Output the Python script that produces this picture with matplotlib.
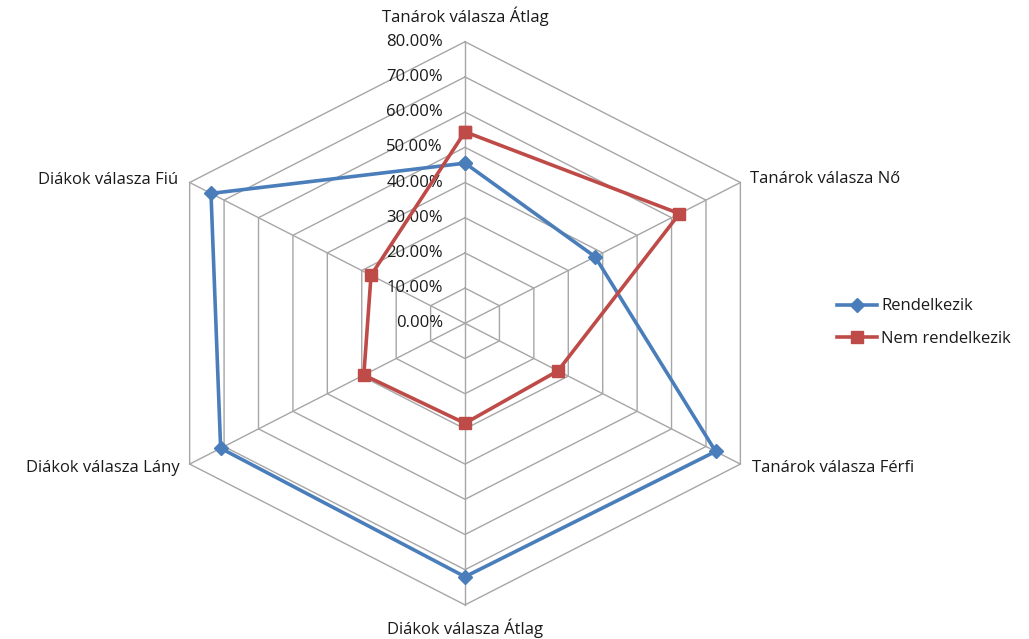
import numpy as np
import matplotlib
matplotlib.use("Agg")
import matplotlib.pyplot as plt

categories = [
    "Tanárok válasza Átlag",
    "Tanárok válasza Nő",
    "Tanárok válasza Férfi",
    "Diákok válasza Átlag",
    "Diákok válasza Lány",
    "Diákok válasza Fiú",
]
rendelkezik = [0.455, 0.378, 0.728, 0.720, 0.710, 0.738]
nem_rendelkezik = [0.544, 0.623, 0.270, 0.284, 0.294, 0.273]
series_names = ["Rendelkezik", "Nem rendelkezik"]
ticks = [0.0, 0.1, 0.2, 0.3, 0.4, 0.5, 0.6, 0.7, 0.8]
tick_labels = [f"{t * 100:.2f}%" for t in ticks]

plt.rcParams["font.family"] = ["Open Sans", "DejaVu Sans"]
FS = 12
TXT = "#1a1a1a"
GRID = "#a6a6a6"
BLUE = "#4a7ebb"
RED = "#be4b48"

fig = plt.figure(figsize=(10.29, 6.39), dpi=100)
ax = fig.add_axes([0, 0, 1, 1])
ax.set_xlim(-1.170, 1.419)
ax.set_ylim(-0.8969, 0.9185)
ax.axis("off")

n = len(categories)
angles = np.arange(n) * 2 * np.pi / n  # clockwise from top


def xy(r, th):
    r = np.asarray(r, dtype=float)
    return r * np.sin(th), r * np.cos(th)


# hexagonal grid rings
closed = np.append(angles, angles[0])
for t in ticks[1:]:
    gx, gy = xy(np.full(n + 1, t), closed)
    ax.plot(gx, gy, color=GRID, lw=1.0, zorder=1)
# spokes
rmax = ticks[-1]
for th in angles:
    sx, sy = xy([0, rmax], th)
    ax.plot(sx, sy, color=GRID, lw=1.0, zorder=1)

# tick labels along the top axis
for t, lab in zip(ticks, tick_labels):
    ax.annotate(lab, xy=(0, t), xytext=(-22, 0), textcoords="offset pixels",
                ha="right", va="center", fontsize=FS, color=TXT)

# category labels
offsets = [(0, 25), (10, 4), (12, -4), (0, -23), (-10, -4), (-12, 3)]
aligns = [("center", "center"), ("left", "center"), ("left", "center"),
          ("center", "center"), ("right", "center"), ("right", "center")]
for cat, th, off, (ha, va) in zip(categories, angles, offsets, aligns):
    vx, vy = xy(rmax, th)
    ax.annotate(cat, xy=(float(vx), float(vy)), xytext=off, textcoords="offset pixels",
                ha=ha, va=va, fontsize=FS, color=TXT)

# data series
for vals, name, col, mk, ms in [
    (rendelkezik, series_names[0], BLUE, "D", 7),
    (nem_rendelkezik, series_names[1], RED, "s", 8),
]:
    v = np.append(vals, vals[0])
    px, py = xy(v, closed)
    ax.plot(px, py, color=col, lw=2.6, marker=mk, markersize=ms,
            markerfacecolor=col, markeredgecolor=col, label=name, zorder=3,
            solid_joinstyle="round")

leg = ax.legend(loc="center left", bbox_to_anchor=(0.807, 0.495), frameon=False,
                fontsize=FS, handlelength=2.4, handletextpad=0.25, labelspacing=1.0,
                borderaxespad=0)
for t in leg.get_texts():
    t.set_color(TXT)

fig.savefig("out.png", dpi=100, facecolor="white")
